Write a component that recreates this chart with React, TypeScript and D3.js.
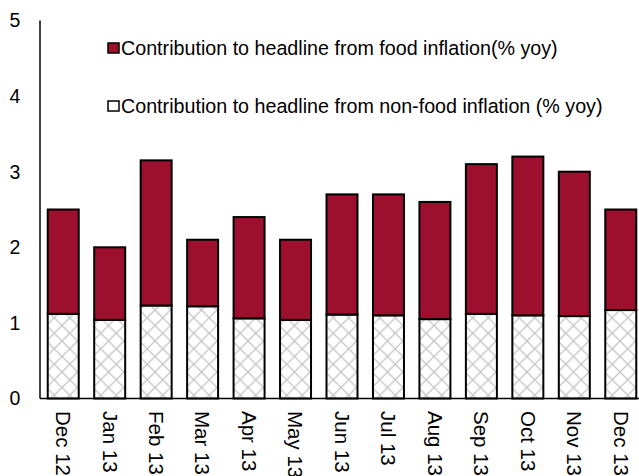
import React from "react";
import * as d3 from "d3";

const months = ["Dec 12","Jan 13","Feb 13","Mar 13","Apr 13","May 13","Jun 13","Jul 13","Aug 13","Sep 13","Oct 13","Nov 13","Dec 13"];
const nonFood = [1.12,1.04,1.23,1.22,1.06,1.04,1.11,1.10,1.05,1.12,1.10,1.09,1.17];
const total = [2.5,2.0,3.15,2.1,2.4,2.1,2.7,2.7,2.6,3.1,3.2,3.0,2.5];
const yTicks = [0,1,2,3,4,5];
const legendLabels = [
  "Contribution to headline from food inflation(% yoy)",
  "Contribution to headline from non-food inflation (% yoy)",
];

const W = 639, H = 476;
const FONT = "Liberation Sans, Arial, sans-serif";
const RED = "#9c102e";
const FS = 19.5;
const LEG_FS = 19.7;
const X_FS = 20.5;

export default function App() {
  const x = d3.scaleBand<string>().domain(months).range([40, 644]).paddingInner(0.333).paddingOuter(0.1665);
  const y = d3.scaleLinear().domain([0, 5]).range([398.5, 20.5]);
  const bw = x.bandwidth();
  return (
    <svg width={W} height={H} style={{ position: "absolute", left: 0, top: 0, background: "#fff" }} fontFamily={FONT}>
      <defs>
        <pattern id="hatch" patternUnits="userSpaceOnUse" width={15.5} height={15.5}>
          <rect width={15.5} height={15.5} fill="#fff" />
          <path d="M0,0 L15.5,15.5 M15.5,0 L0,15.5" stroke="#c4c4c4" strokeWidth={1.3} />
        </pattern>
      </defs>
      {months.map((m, i) => {
        const x0 = x(m)!;
        return (
          <g key={m}>
            <rect x={x0} y={y(nonFood[i])} width={bw} height={y(0) - y(nonFood[i])} fill="url(#hatch)" stroke="#000" strokeWidth={2} />
            <rect x={x0} y={y(total[i])} width={bw} height={y(nonFood[i]) - y(total[i])} fill={RED} stroke="#000" strokeWidth={2} />
          </g>
        );
      })}
      <line x1={40} x2={40} y1={y(5)} y2={y(0)} stroke="#000" strokeWidth={1.5} />
      <line x1={40} x2={W} y1={y(0)} y2={y(0)} stroke="#000" strokeWidth={1.5} />
      {yTicks.map((t) => (
        <text key={t} x={15} y={y(t)} dy="0.35em" textAnchor="middle" fontSize={FS} fill="#000">{t}</text>
      ))}
      {months.map((m) => (
        <text key={m} transform={`translate(${x(m)! + bw / 2},${411}) rotate(90)`} dy="0.35em" textAnchor="start" fontSize={X_FS} fill="#000">{m}</text>
      ))}
      <rect x={108} y={43} width={11} height={10} fill={RED} stroke="#000" strokeWidth={1.5} />
      <text x={121} y={48} dy="0.35em" fontSize={LEG_FS} fill="#000">{legendLabels[0]}</text>
      <rect x={108} y={101} width={11} height={10} fill="#fff" stroke="#000" strokeWidth={1.5} />
      <text x={121} y={106} dy="0.35em" fontSize={LEG_FS} fill="#000">{legendLabels[1]}</text>
    </svg>
  );
}
